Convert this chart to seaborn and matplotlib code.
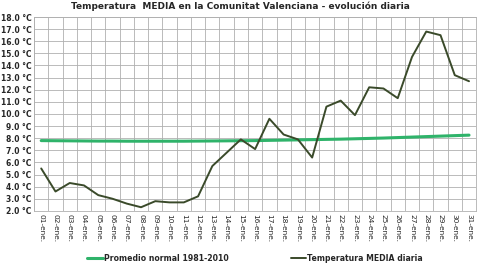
import numpy as np
import pandas as pd
import matplotlib
matplotlib.use("Agg")
import matplotlib.pyplot as plt
import seaborn as sns

dias = ["%02d-ene." % d for d in range(1, 32)]
temp_media = [5.5, 3.6, 4.3, 4.1, 3.3, 3.0, 2.6, 2.3, 2.8, 2.7, 2.7, 3.2, 5.7, 6.8, 7.9, 7.1,
              9.6, 8.3, 7.9, 6.4, 10.6, 11.1, 9.9, 12.2, 12.1, 11.3, 14.7, 16.8, 16.5, 13.2, 12.7]
promedio = [7.80, 7.79, 7.78, 7.77, 7.76, 7.76, 7.75, 7.75, 7.75, 7.75, 7.75, 7.76, 7.77, 7.78,
            7.79, 7.80, 7.82, 7.84, 7.86, 7.88, 7.90, 7.92, 7.95, 7.98, 8.01, 8.05, 8.09, 8.13,
            8.17, 8.21, 8.25]

df = pd.DataFrame({"dia": dias, "x": np.arange(31), "media": temp_media, "normal": promedio})

sns.set_style("white")
plt.rcParams['font.family'] = ['DejaVu Sans']

fig = plt.figure(figsize=(4.8, 2.7), dpi=100)
ax = fig.add_axes([0.071, 0.219, 0.921, 0.718])

sns.lineplot(data=df, x="x", y="normal", ax=ax, color="#2fb36a", lw=2.2,
             label="Promedio normal 1981-2010")
sns.lineplot(data=df, x="x", y="media", ax=ax, color="#3a4a2a", lw=1.4,
             label="Temperatura MEDIA diaria")

ax.set_xlim(-0.5, 30.5)
ax.set_ylim(2, 18)
ax.set_yticks(np.arange(2, 19, 1))
ax.set_yticklabels(["%.1f °C" % v for v in np.arange(2, 19, 1)], fontsize=5.5, fontweight="bold")
ax.set_xticks(np.arange(31))
ax.set_xticklabels(dias, rotation=-90, fontsize=5.3)
ax.set_xticks(np.arange(-0.5, 31, 1), minor=True)
ax.grid(which="minor", axis="x", color="#b0b0b0", lw=0.6)
ax.grid(which="major", axis="y", color="#b0b0b0", lw=0.6)
ax.tick_params(axis="both", which="both", length=0, pad=2)
ax.set_xlabel("")
ax.set_ylabel("")
for s in ax.spines.values():
    s.set_color("#b0b0b0")
    s.set_linewidth(0.6)

fig.suptitle("Temperatura  MEDIA en la Comunitat Valenciana - evolución diaria",
             fontsize=6.5, fontweight="bold", y=0.995)

leg = ax.legend(loc="center", bbox_to_anchor=(0.5, -0.245), ncol=2, frameon=False,
                fontsize=5.6, handlelength=2.0, handletextpad=0.1, columnspacing=8)
for t in leg.get_texts():
    t.set_fontweight("bold")

fig.savefig("out.png", dpi=100)
